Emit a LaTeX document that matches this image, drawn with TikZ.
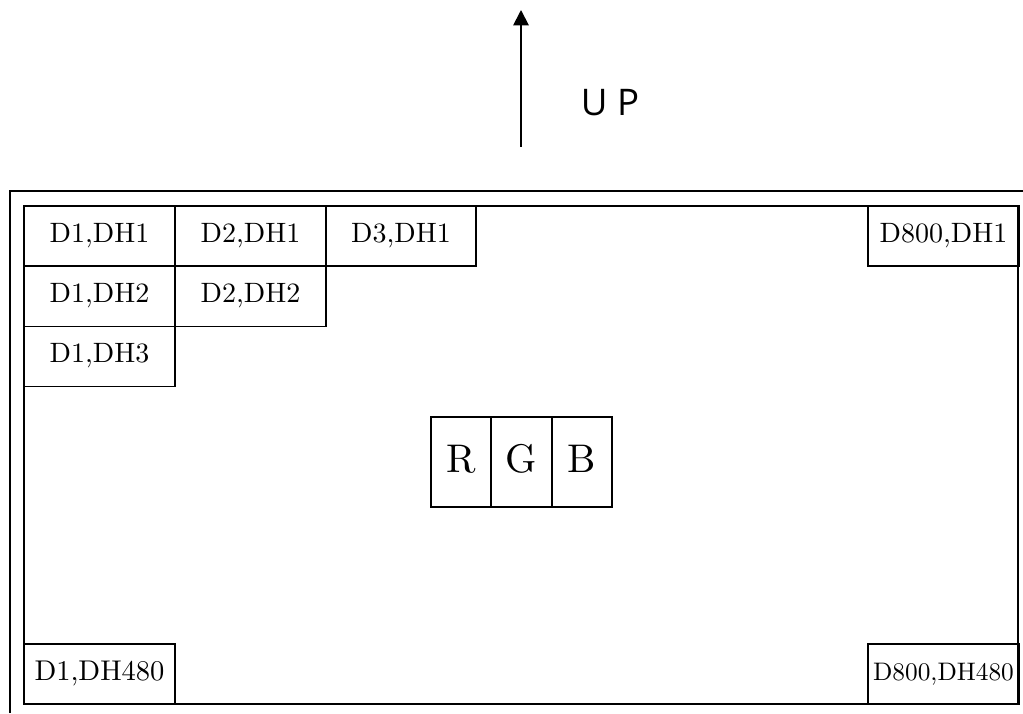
\documentclass[tikz,border=0pt]{standalone}
\usepackage{graphicx}
\usepackage{fontspec}
\newfontfamily\upfont{Open Sans}
\usetikzlibrary{arrows.meta}
\newcommand{\celltext}[1]{\scalebox{2.1}{#1}}
\newcommand{\longtext}[1]{\scalebox{2.14}{#1}}
\newcommand{\widetext}[1]{\scalebox{1.9}{#1}}
\newcommand{\rgbtext}[1]{\scalebox{3}{#1}}
\tikzset{
  x=0.75pt,y=-0.75pt,
  ln/.style={line width=1.4pt,black},
  cell/.style={draw,ln,inner sep=0pt,minimum width=113pt,minimum height=45pt,font=\fontsize{10}{12}\selectfont,text height=12pt,text depth=3pt},
  rgbbox/.style={draw,ln,inner sep=0pt,minimum width=45.5pt,minimum height=67.5pt,font=\fontsize{10}{12}\selectfont,text height=21pt,text depth=5pt},
}
\begin{document}
\begin{tikzpicture}
\useasboundingbox (0,0) rectangle (1023,713);
\coordinate (fa) at (9.9,713);
\coordinate (fb) at (9.9,191);
\coordinate (fc) at (1023,191);
\draw[ln] (fa) -- (fb) -- (fc);
\node[draw,ln,inner sep=0pt,minimum width=746pt,minimum height=373.5pt] (panel) at (521,455) {};
\node[cell] (a11) at (99.5,236) {\celltext{D1,DH1}};
\node[cell] (a21) at (250.5,236) {\celltext{D2,DH1}};
\node[cell] (a31) at (401,236) {\celltext{D3,DH1}};
\node[cell] (a12) at (99.5,296.5) {\celltext{D1,DH2}};
\node[cell] (a22) at (250.5,296.5) {\celltext{D2,DH2}};
\node[cell] (a13) at (99.5,356.5) {\celltext{D1,DH3}};
\node[cell] (z1) at (943.5,236) {\celltext{D800,DH1}};
\node[cell] (a1z) at (99.5,674) {\longtext{D1,DH480}};
\node[cell] (zz) at (943.5,674) {\widetext{D800,DH480}};
\node[rgbbox] (r) at (461,462) {\rgbtext{R}};
\node[rgbbox] (g) at (521.5,462) {\rgbtext{G}};
\node[rgbbox] (b) at (582,462) {\rgbtext{B}};
\coordinate (ub) at (521,147);
\coordinate (ut) at (521,10);
\draw[ln,-{Triangle[length=11.5pt,width=11.5pt]}] (ub) -- (ut);
\node[font=\upfont\fontsize{27.5}{32}\selectfont,inner sep=0pt] (up) at (610,103) {U P};
\end{tikzpicture}
\end{document}
